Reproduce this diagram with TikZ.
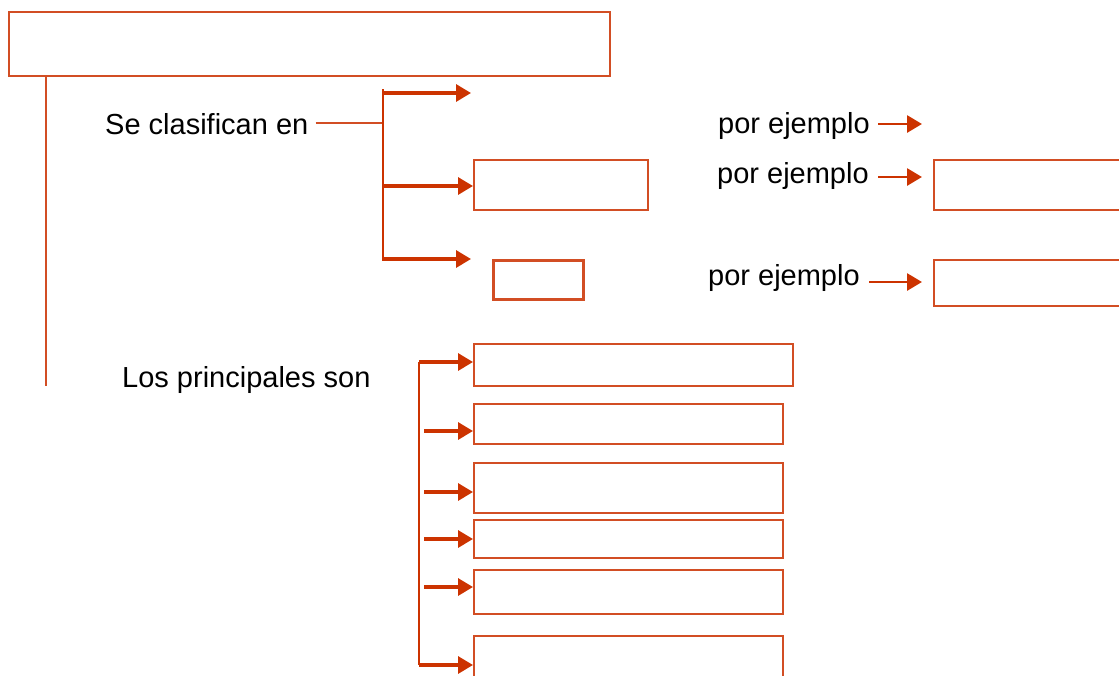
\documentclass[tikz,border=0pt]{standalone}
\usepackage{fontspec}
\setmainfont{Liberation Sans}
\usetikzlibrary{arrows.meta}
\definecolor{boxred}{RGB}{210,78,36}
\definecolor{arrowred}{RGB}{204,51,0}

\begin{document}
\begin{tikzpicture}[x=1pt,y=-1pt,
  box/.style={draw=boxred,line width=1.5pt,anchor=north west,inner sep=0pt},
  lbl/.style={font=\fontsize{29}{34}\selectfont,anchor=base west,inner sep=0pt},
  link/.style={draw=boxred,line width=1.5pt},
  bar/.style={draw=arrowred,line width=2.2pt},
  arr/.style={draw=arrowred,line width=3.2pt,-{Triangle[length=15pt,width=17pt]}}]
\clip (0,0) rectangle (1119,675);
% title and left line
\node[box,minimum width=601pt,minimum height=64pt] (title) at (8,11) {};
\coordinate (tl) at (46,386);
\draw[link] (title.south -| tl) -- (tl);
% first group
\node[lbl] (clas) at (105,134) {Se clasifican en};
\coordinate (k0) at (383,123);
\coordinate (k1) at (383,89);
\coordinate (k3) at (383,261);
\draw[link] ([xshift=7pt]clas.east |- k0) -- (k0);
\draw[bar] (k1) -- (k3);
\node[box,minimum width=174pt,minimum height=50pt] (b1) at (473,159) {};
\node[box,line width=2.8pt,minimum width=90pt,minimum height=39pt] (b2) at (492,259) {};
\coordinate (a1) at (383,93);
\coordinate (e1) at (471,93);
\coordinate (a2) at (383,186);
\coordinate (a3) at (383,259);
\coordinate (e3) at (471,259);
\draw[arr] (a1) -- (e1);
\draw[arr] (a2) -- (a2 -| b1.west);
\draw[arr] (a3) -- (e3);
% examples
\node[lbl] (ej1) at (718,133) {por ejemplo};
\node[lbl] (ej2) at (717,183) {por ejemplo};
\node[lbl] (ej3) at (708,285) {por ejemplo};
\node[box,minimum width=200pt,minimum height=50pt] (r2) at (933,159) {};
\node[box,minimum width=200pt,minimum height=46pt] (r3) at (933,259) {};
\coordinate (f1) at (878,124);
\coordinate (g1) at (922,124);
\coordinate (f2) at (878,177);
\coordinate (f3) at (869,282);
\draw[arr,line width=2.8pt] (f1) -- (g1);
\draw[arr,line width=2.8pt] (f2) -- ([xshift=-11pt]f2 -| r2.west);
\draw[arr,line width=2.8pt] (f3) -- ([xshift=-11pt]f3 -| r3.west);
% second group
\node[lbl] (prin) at (122,387) {Los principales son};
\node[box,minimum width=319pt,minimum height=42pt] (p1) at (473,343) {};
\node[box,minimum width=309pt,minimum height=40pt] (p2) at (473,403) {};
\node[box,minimum width=309pt,minimum height=50pt] (p3) at (473,462) {};
\node[box,minimum width=309pt,minimum height=38pt] (p4) at (473,519) {};
\node[box,minimum width=309pt,minimum height=44pt] (p5) at (473,569) {};
\node[box,minimum width=309pt,minimum height=60pt] (p6) at (473,635) {};
\coordinate (m1) at (419,362);
\coordinate (m6) at (419,665);
\coordinate (s2) at (424,431);
\coordinate (s3) at (424,492);
\coordinate (s4) at (424,539);
\coordinate (s5) at (424,587);
\draw[bar] (m1) -- (m6);
\draw[arr] (m1) -- (m1 -| p1.west);
\foreach \i in {2,...,5}
  \draw[arr] (s\i) -- (s\i -| p\i.west);
\draw[arr] (m6) -- (m6 -| p6.west);
\end{tikzpicture}
\end{document}
